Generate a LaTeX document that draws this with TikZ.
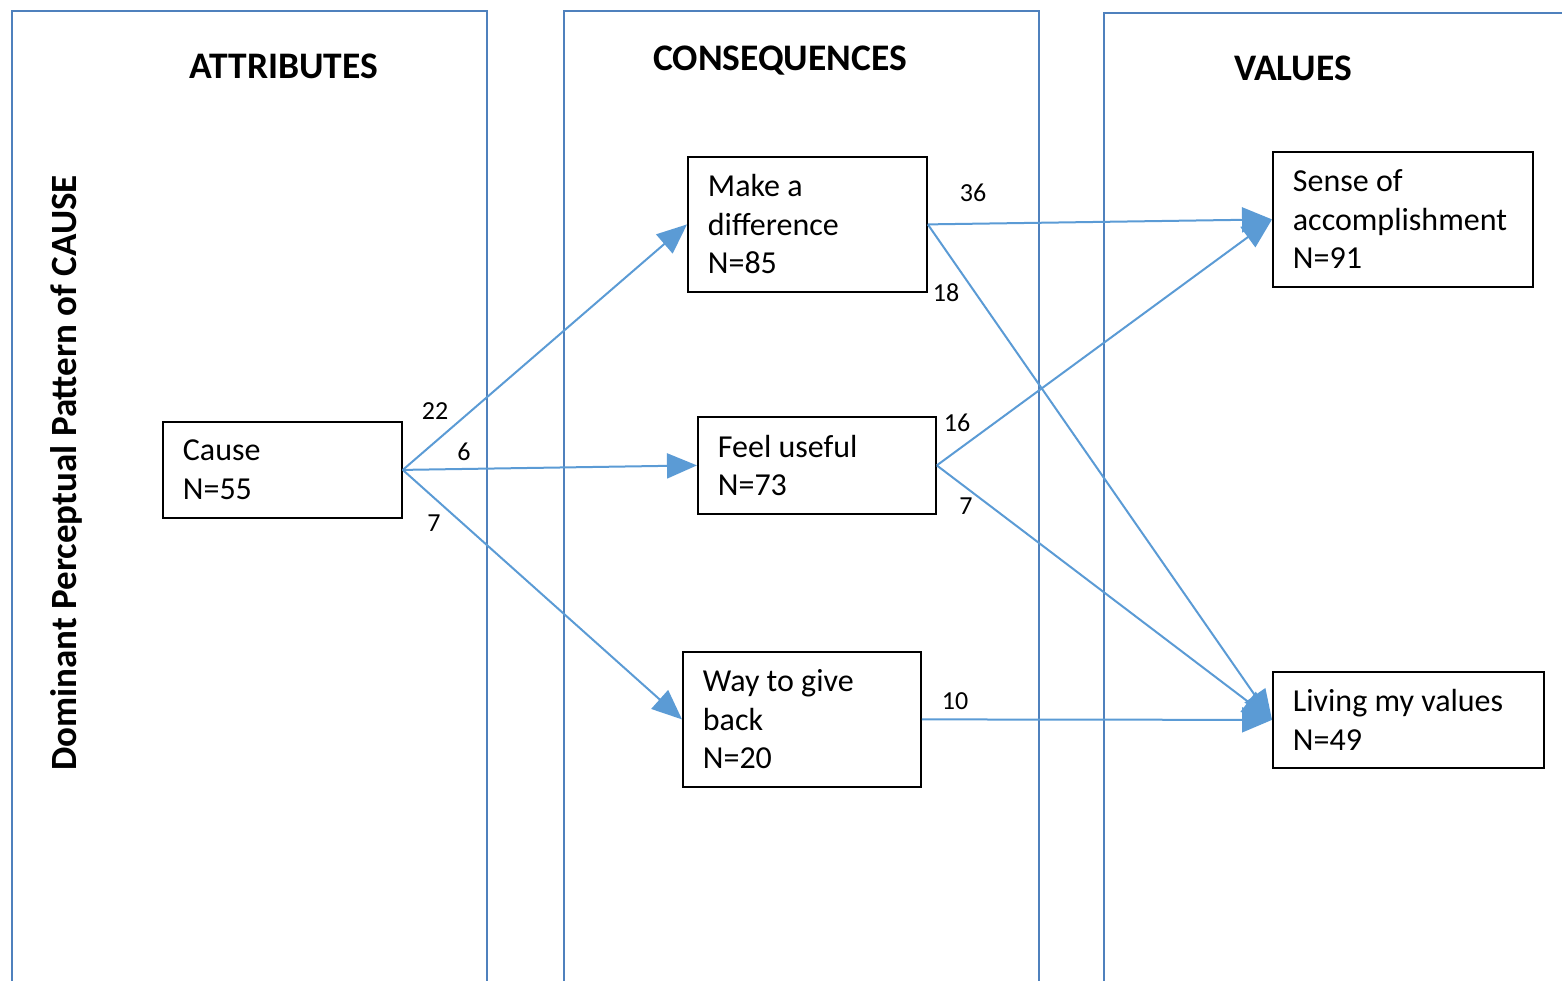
\documentclass[tikz,border=0pt]{standalone}
\usepackage{fontspec}
\setmainfont{Carlito}
\usetikzlibrary{arrows.meta}
\definecolor{colline}{RGB}{79,129,189}
\definecolor{arrcol}{RGB}{91,155,213}
\tikzset{
  column/.style={draw=colline, line width=2.5pt},
  header/.style={font=\fontsize{37.5}{42}\selectfont\bfseries, inner sep=0pt},
  concept/.style={draw=black, line width=1.8pt, fill=white, align=flush left,
    inner xsep=20pt, inner ysep=0pt, anchor=north west,
    font=\fontsize{32}{38.5}\selectfont},
  link/.style={draw=arrcol, line width=2pt, -{Triangle[length=30pt,width=25pt]}},
  count/.style={font=\fontsize{26}{30}\selectfont, inner sep=0pt}
}
\begin{document}
\begin{tikzpicture}[x=1pt, y=-1pt]
\useasboundingbox (0,0) rectangle (1562,981);
% three columns, open at the bottom
\draw[column] (12,981) -- (12,11) -- (487,11) -- (487,981);
\draw[column] (564,981) -- (564,11) -- (1039,11) -- (1039,981);
\draw[column] (1104,981) -- (1104,13) -- (1562,13);
% column headers
\node[header] (hA) at (284,66) {ATTRIBUTES};
\node[header] (hC) at (780,61) {CONSEQUENCES};
\node[header] (hV) at (1293,68) {VALUES};
% side title
\node[header, rotate=90, font=\fontsize{37}{42}\selectfont\bfseries] (side) at (66,473) {Dominant Perceptual Pattern of CAUSE};
% concept boxes
\node[concept, minimum width=239pt, minimum height=96pt, text width=199pt] (cause) at (162,421) {Cause\\N=55};
\node[concept, minimum width=239pt, minimum height=135pt, text width=199pt] (diff) at (687,156) {Make a\\difference\\N=85};
\node[concept, minimum width=238pt, minimum height=97pt, text width=198pt] (useful) at (697,416) {Feel useful\\N=73};
\node[concept, minimum width=238pt, minimum height=135pt, text width=198pt] (give) at (682,651) {Way to give\\back\\N=20};
\node[concept, minimum width=260pt, minimum height=135pt, text width=220pt] (accomp) at (1272,151) {Sense of\\accomplishment\\N=91};
\node[concept, minimum width=271pt, minimum height=96pt, text width=231pt] (living) at (1272,671) {Living my values\\N=49};
% links
\draw[link] (cause.east) -- (diff.west);
\draw[link] (cause.east) -- (useful.west);
\draw[link] (cause.east) -- (give.west);
\draw[link] (diff.east) -- (accomp.west);
\draw[link] (diff.east) -- (living.west);
\draw[link] (useful.east) -- (accomp.west);
\draw[link] (useful.east) -- (living.west);
\draw[link] (give.east) -- (living.west);
% link counts
\node[count] (n1) at (435,411) {22};
\node[count] (n2) at (464,452) {6};
\node[count] (n3) at (434,523) {7};
\node[count] (n4) at (973,193) {36};
\node[count] (n5) at (946,293) {18};
\node[count] (n6) at (957,423) {16};
\node[count] (n7) at (966,506) {7};
\node[count] (n8) at (955,701) {10};
\end{tikzpicture}
\end{document}
